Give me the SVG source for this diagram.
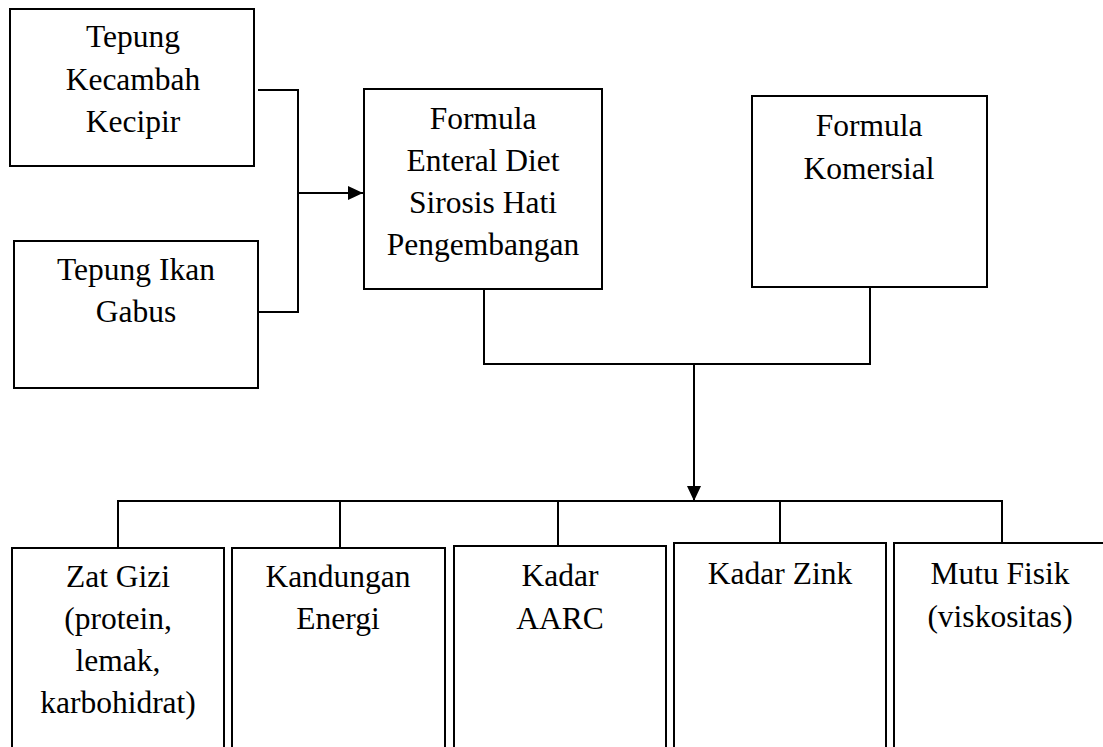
<svg xmlns="http://www.w3.org/2000/svg" width="1103" height="747" viewBox="0 0 1103 747">
<style>
.box{fill:#fff;stroke:#000;stroke-width:2}
.ln{fill:none;stroke:#000;stroke-width:2}
text{font-family:"Liberation Serif","Times New Roman",serif;font-size:31.5px;fill:#000;text-anchor:middle}
</style>
<defs>
<marker id="ah" markerWidth="15" markerHeight="14" refX="15" refY="7" orient="auto" markerUnits="userSpaceOnUse">
<path d="M0,0 L15,7 L0,14 Z" fill="#000"/>
</marker>
</defs>
<rect width="1103" height="747" fill="#fff"/>
<g id="connectors">
<path class="ln" d="M258,90 H298 V312 H258"/>
<path class="ln" d="M298,193 H363" marker-end="url(#ah)"/>
<path class="ln" d="M484,289 V364 H870 V287"/>
<path class="ln" d="M694,364 V501" marker-end="url(#ah)"/>
<path class="ln" d="M118,548 V501 H1002 V543"/>
<path class="ln" d="M340,501 V548"/>
<path class="ln" d="M558,501 V546"/>
<path class="ln" d="M780,501 V543"/>
</g>
<g id="n-kecipir">
<rect class="box" x="10" y="9" width="244" height="157"/>
<text x="133" y="47">Tepung</text>
<text x="133" y="90">Kecambah</text>
<text x="133" y="132">Kecipir</text>
</g>
<g id="n-gabus">
<rect class="box" x="14" y="241" width="244" height="147"/>
<text x="136" y="280">Tepung Ikan</text>
<text x="136" y="322">Gabus</text>
</g>
<g id="n-enteral">
<rect class="box" x="364" y="89" width="238" height="200"/>
<text x="483" y="129">Formula</text>
<text x="483" y="171">Enteral Diet</text>
<text x="483" y="213">Sirosis Hati</text>
<text x="483" y="255">Pengembangan</text>
</g>
<g id="n-komersial">
<rect class="box" x="752" y="96" width="235" height="191"/>
<text x="869" y="136">Formula</text>
<text x="869" y="179">Komersial</text>
</g>
<g id="n-zatgizi">
<rect class="box" x="12" y="548" width="212" height="220"/>
<text x="118" y="587">Zat Gizi</text>
<text x="118" y="629">(protein,</text>
<text x="118" y="671">lemak,</text>
<text x="118" y="713">karbohidrat)</text>
</g>
<g id="n-energi">
<rect class="box" x="232" y="548" width="213" height="220"/>
<text x="338" y="587">Kandungan</text>
<text x="338" y="629">Energi</text>
</g>
<g id="n-aarc">
<rect class="box" x="454" y="546" width="212" height="222"/>
<text x="560" y="586">Kadar</text>
<text x="560" y="629">AARC</text>
</g>
<g id="n-zink">
<rect class="box" x="674" y="543" width="212" height="225"/>
<text x="780" y="584">Kadar Zink</text>
</g>
<g id="n-mutu">
<rect class="box" x="894" y="543" width="220" height="225"/>
<text x="1000" y="584">Mutu Fisik</text>
<text x="1000" y="627">(viskositas)</text>
</g>
</svg>
